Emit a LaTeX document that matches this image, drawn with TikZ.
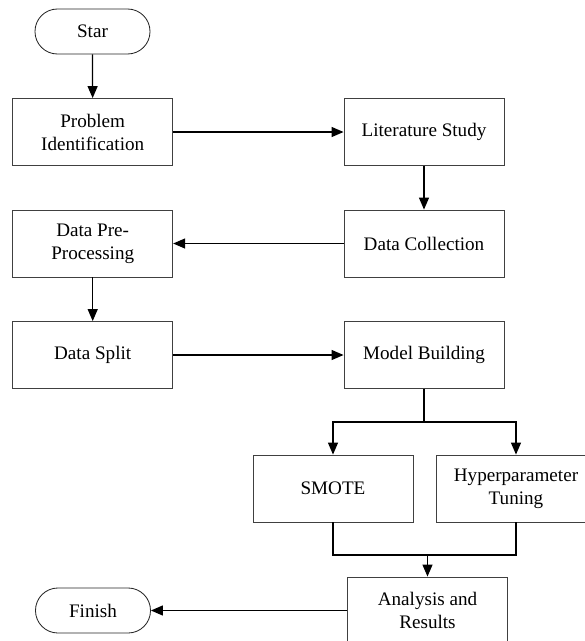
\documentclass[tikz,border=0pt]{standalone}
\usepackage{fontspec}
\setmainfont{Liberation Serif}
\usetikzlibrary{arrows.meta}
\tikzset{
  box/.style={draw=black!75, line width=0.6pt, minimum width=4cm, minimum height=1.675cm,
    align=center, inner sep=2pt, font=\fontsize{13.6}{16.4}\selectfont},
  term/.style={draw=black!85, line width=0.6pt, rounded corners=0.56cm, minimum width=2.875cm,
    minimum height=1.125cm, font=\fontsize{13.6}{16.4}\selectfont},
  flow/.style={line width=0.9pt, ->}
}
\begin{document}
\begin{tikzpicture}[x=0.025cm, y=-0.025cm, >={Triangle[length=0.3cm, width=0.25cm]}]
  \useasboundingbox (0,0) rectangle (585,641);
  \clip (0,0) rectangle (585,641);
  \node[term] (star) at (92.5,31.5) {Star};
  \node[box] (ident) at (92.7,132) {Problem\\Identification};
  \node[box] (lit) at (424,132) {Literature Study};
  \node[box] (collect) at (424,243.5) {Data Collection};
  \node[box] (prep) at (92.7,243.5) {Data Pre-\\Processing};
  \node[box] (split) at (92.7,355) {Data Split};
  \node[box] (model) at (424,355) {Model Building};
  \node[box] (smote) at (333,488.5) {SMOTE};
  \node[box] (tune) at (516,488.5) {Hyperparameter\\Tuning};
  \node[box] (result) at (427.5,610.5) {Analysis and\\Results};
  \node[term] (finish) at (93,610.5) {Finish};
  \coordinate (fork) at (424,422);
  \coordinate (join) at (427.5,555);
  \draw[flow] (star) -- (ident);
  \draw[flow] (ident) -- (lit);
  \draw[flow] (lit) -- (collect);
  \draw[flow] (collect) -- (prep);
  \draw[flow] (prep) -- (split);
  \draw[flow] (split) -- (model);
  \draw[line width=0.9pt] (model) -- (fork);
  \draw[flow] (fork) -| (smote);
  \draw[flow] (fork) -| (tune);
  \draw[line width=0.9pt] (smote) |- (join) -| (tune);
  \draw[flow] (join) -- (result);
  \draw[flow] (result) -- (finish);
\end{tikzpicture}
\end{document}
